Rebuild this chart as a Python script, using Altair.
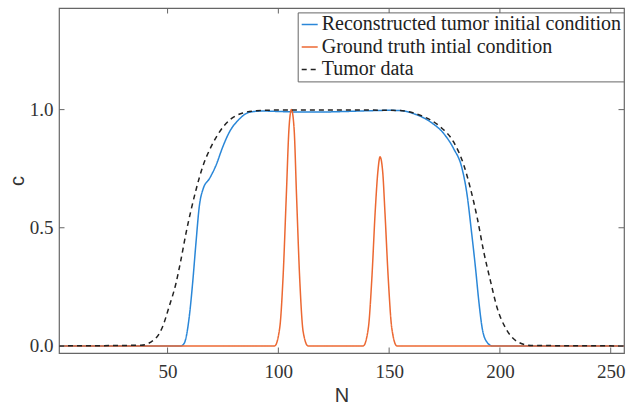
import altair as alt
import pandas as pd

# ---------------- data ----------------
series_names = [
    "Reconstructed tumor initial condition",
    "Ground truth intial condition",
    "Tumor data",
]

recon_N = [1, 56, 57.5, 59.8, 61.3, 62.8, 64.3, 66.1, 68.9, 71.9, 74.9, 77.9,
           82.5, 87, 93, 100, 110, 120, 130, 140, 150, 155, 161, 168.6, 174.6,
           179.1, 182.9, 185.2, 187, 189, 190.5, 192, 194, 196.6, 256]
recon_c = [0, 0, 0.011, 0.124, 0.265, 0.434, 0.589, 0.666, 0.708, 0.765, 0.842,
           0.905, 0.961, 0.989, 0.994, 0.992, 0.99, 0.99, 0.992, 0.995, 0.997,
           0.996, 0.983, 0.948, 0.899, 0.835, 0.751, 0.638, 0.497, 0.328, 0.187,
           0.075, 0.018, 0, 0]

truth_N = [1, 98.3, 100.6, 102.1, 103.6, 104.8, 105.9, 107.1, 108.2, 109.7,
           111.2, 113.4, 138.3, 140.6, 142.2, 143.7, 144.9, 145.9, 147.1, 148.1,
           149.6, 151.2, 153.5, 256]
truth_c = [0, 0, 0.075, 0.286, 0.638, 0.92, 1.0, 0.92, 0.638, 0.272, 0.06, 0,
           0, 0.075, 0.286, 0.567, 0.736, 0.80, 0.736, 0.567, 0.286, 0.075, 0, 0]

data_N = [1, 38, 44.7, 47.7, 50.7, 53.8, 56, 58.3, 60.6, 62.8, 65.8, 69.6, 73.4,
          77.9, 84, 90, 100, 120, 140, 155, 164, 173.1, 179.1, 183.7, 186.7,
          189.8, 192.7, 195.8, 198.8, 202.6, 207.9, 214, 256]
data_c = [0, 0.003, 0.033, 0.08, 0.166, 0.265, 0.363, 0.476, 0.575, 0.659, 0.757,
          0.842, 0.905, 0.955, 0.986, 0.995, 0.998, 0.998, 0.998, 0.996, 0.976,
          0.927, 0.863, 0.765, 0.666, 0.540, 0.398, 0.272, 0.159, 0.075, 0.018,
          0.002, 0]

x_ticks = [50, 100, 150, 200, 250]
y_ticks = [0.0, 0.5, 1.0]

# ---------------- build table ----------------
frames = []
for name, N, c in zip(series_names, [recon_N, truth_N, data_N],
                      [recon_c, truth_c, data_c]):
    frames.append(pd.DataFrame({"N": N, "c": c, "series": name}))
df = pd.concat(frames, ignore_index=True)

W, H = 565, 345
BLUE = "#2a87d8"
ORANGE = "#ec6832"
AXIS_GRAY = "#666666"
SERIF = "Liberation Serif"
SANS = "Liberation Sans"

xscale = alt.Scale(domain=[1, 256], nice=False, zero=False)
yscale = alt.Scale(domain=[-0.03, 1.43], nice=False, zero=False)

legend = alt.Legend(
    orient="none", legendX=238.7, legendY=4.4, title=None,
    symbolType="stroke", symbolSize=256, symbolStrokeWidth=1.5,
    labelFont=SERIF, labelFontSize=20, labelColor="#222222", labelLimit=500,
    labelOffset=2, strokeColor=AXIS_GRAY, fillColor="white",
    padding=2, rowPadding=2.5, cornerRadius=0,
)

color_enc = alt.Color(
    "series:N",
    scale=alt.Scale(domain=series_names, range=[BLUE, ORANGE, "#222222"]),
    legend=legend, title=None,
)
dash_enc = alt.StrokeDash(
    "series:N",
    scale=alt.Scale(domain=series_names, range=[[1, 0], [1, 0], [5, 4]]),
    legend=legend, title=None,
)

x_enc = alt.X(
    "N:Q", scale=xscale,
    axis=alt.Axis(values=x_ticks, title="N", grid=False, domain=False,
                  ticks=False, labelPadding=9, labelFont=SERIF,
                  labelFontSize=19, labelColor="#333333", titleFont=SANS,
                  titleFontSize=20, titleFontWeight="normal",
                  titleColor="#333333", titleBaseline="alphabetic",
                  titleX=W / 2, titleY=48),
)
y_enc = alt.Y(
    "c:Q", scale=yscale,
    axis=alt.Axis(values=y_ticks, format=".1f", title="c", grid=False,
                  domain=False, ticks=False, labelPadding=6, labelFont=SERIF,
                  labelFontSize=19, labelColor="#333333", titleFont=SANS,
                  titleFontSize=20, titleFontWeight="normal",
                  titleColor="#333333", titleBaseline="alphabetic",
                  titleX=-36, titleY=H / 2),
)

base = alt.Chart(df)
layers = []
for name in series_names:
    layers.append(
        base.transform_filter(alt.datum.series == name)
        .mark_line(strokeWidth=1.5, interpolate="monotone")
        .encode(x=x_enc, y=y_enc, color=color_enc, strokeDash=dash_enc)
    )

# inward ticks on all four sides (box style)
xt = pd.DataFrame({"N": x_ticks})
yt = pd.DataFrame({"c": y_ticks})
tick_len = 5.5
xt_bottom = alt.Chart(xt).mark_rule(color=AXIS_GRAY, strokeWidth=1).encode(
    x=x_enc, y=alt.value(H), y2=alt.value(H - tick_len))
xt_top = alt.Chart(xt).mark_rule(color=AXIS_GRAY, strokeWidth=1).encode(
    x=x_enc, y=alt.value(0), y2=alt.value(tick_len))
yt_left = alt.Chart(yt).mark_rule(color=AXIS_GRAY, strokeWidth=1).encode(
    y=y_enc, x=alt.value(0), x2=alt.value(tick_len))
yt_right = alt.Chart(yt).mark_rule(color=AXIS_GRAY, strokeWidth=1).encode(
    y=y_enc, x=alt.value(W), x2=alt.value(W - tick_len))

chart = alt.layer(
    *layers, xt_bottom, xt_top, yt_left, yt_right
).properties(
    width=W, height=H,
    autosize=alt.AutoSizeParams(type="none"),
    padding={"left": 59, "top": 8, "right": 2, "bottom": 53},
    background="white",
).configure_view(
    stroke=AXIS_GRAY, strokeWidth=1.2
)

chart.save("out.html", embed_options={"renderer": "svg", "actions": False})
